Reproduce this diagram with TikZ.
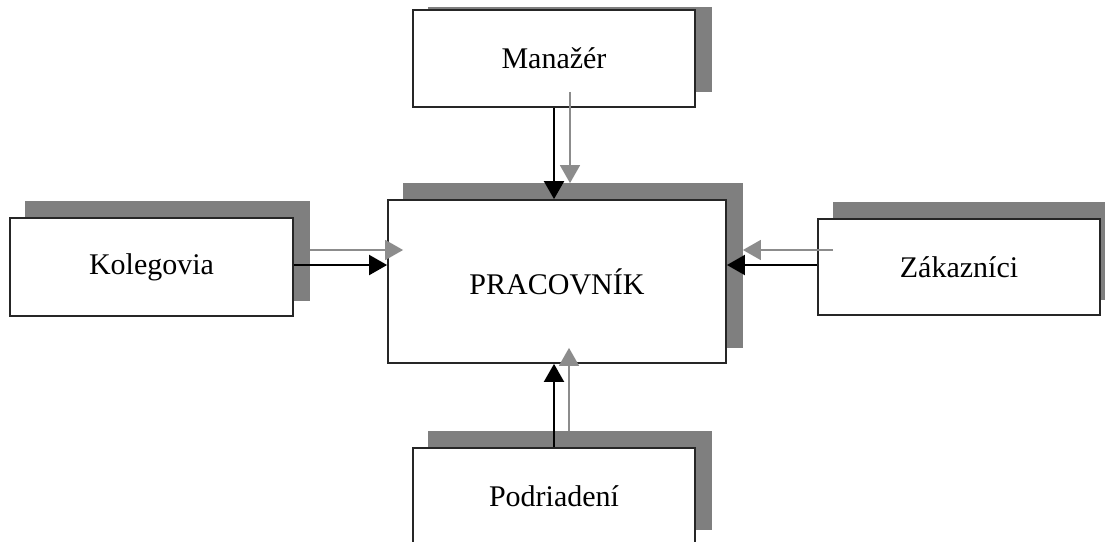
\documentclass[tikz,border=0pt]{standalone}
\usepackage{fontspec}
\setmainfont{Liberation Serif}
\usetikzlibrary{arrows.meta,calc,backgrounds}
\definecolor{shadowgray}{HTML}{7F7F7F}
\definecolor{echogray}{HTML}{8C8C8C}
\definecolor{edge}{HTML}{262626}
\begin{document}
\begin{tikzpicture}[x=1pt,y=-1pt,
  box/.style={draw=edge, line width=1.8pt, fill=white, inner sep=0pt,
    minimum width=282pt, minimum height=97pt,
    font=\fontsize{30}{36}\selectfont},
  boxshadow/.style={fill=shadowgray},
  flow/.style={draw=black, line width=2pt, -{Triangle[length=18pt,width=20pt]}},
  echo/.style={draw=echogray, line width=1.6pt, -{Triangle[length=18pt,width=20pt]}}]
\useasboundingbox (0,0) rectangle (1105,541);

% boxes
\node[box] (man) at (554,58.5) {Manažér};
\node[box, minimum width=283pt, minimum height=98pt] (kol) at (151.5,267) {Kolegovia};
\node[box, minimum width=338pt, minimum height=163pt] (pr) at (557,281.5) {PRACOVNÍK};
\node[box, minimum height=96pt] (zak) at (959,267) {Zákazníci};
\node[box] (pod) at (554,496.5) {Podriadení};

% drop shadows, offset up and to the right
\begin{scope}[on background layer]
  \fill[white] (0,0) rectangle (1105,541);
  \fill[boxshadow] ($(man.south west)+(16,-16)$) rectangle ($(man.north east)+(16,-2)$);
  \foreach \b in {kol,pr,zak,pod}
    \fill[boxshadow] ($(\b.south west)+(16,-16)$) rectangle ($(\b.north east)+(16,-16)$);
\end{scope}

% direct influences (black)
\draw[flow] (man.south) -- (man.south |- pr.north);
\draw[flow] (pod.north) -- (pod.north |- pr.south);
\draw[flow] ([yshift=2pt]kol.east) -- ([yshift=2pt]kol.east -| pr.west);
\draw[flow] ([yshift=2pt]zak.west) -- ([yshift=2pt]zak.west -| pr.east);

% echoes along the shadows (grey)
\draw[echo] ($(man.south)+(16,-16)$) -- ($(man.south |- pr.north)+(16,-16)$);
\draw[echo] ($(pod.north)+(15,-16)$) -- ($(pod.north |- pr.south)+(15,-16)$);
\draw[echo] ($(kol.east)+(16,-17)$) -- ($(kol.east -| pr.west)+(16,-17)$);
\draw[echo] ($(zak.west)+(16,-17)$) -- ($(zak.west -| pr.east)+(16,-17)$);
\end{tikzpicture}
\end{document}
